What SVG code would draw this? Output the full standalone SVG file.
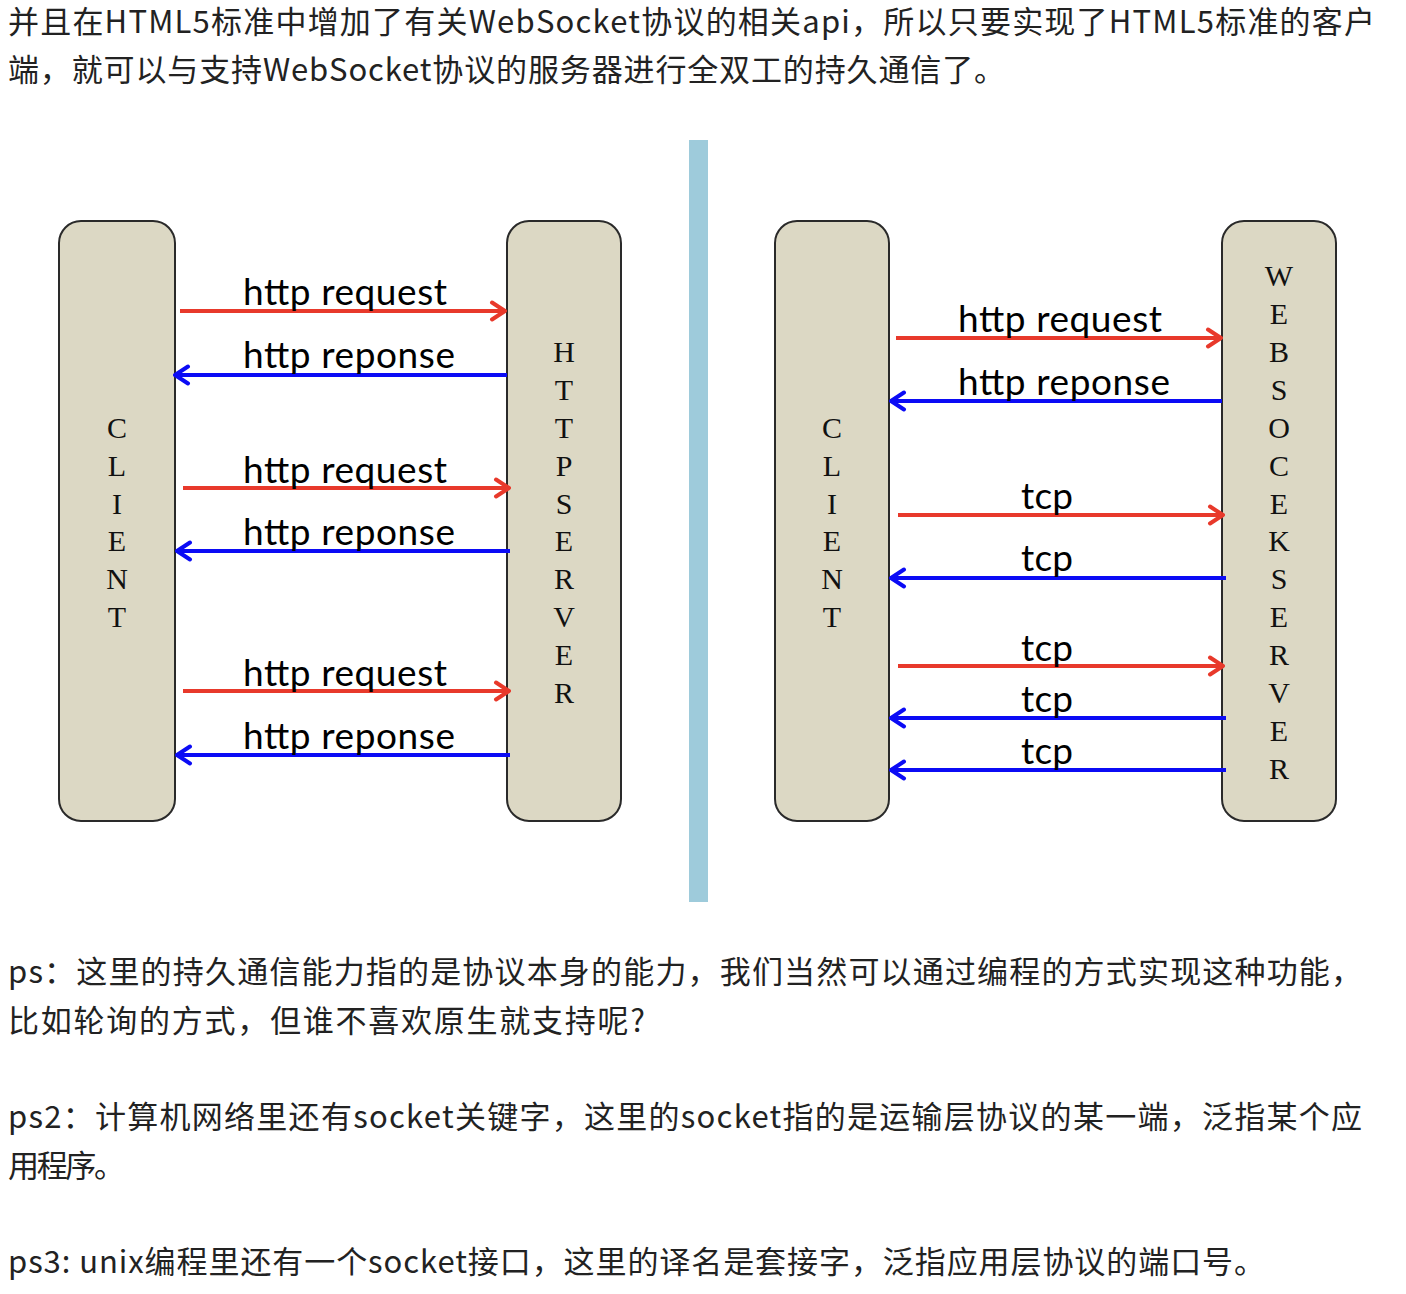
<svg xmlns="http://www.w3.org/2000/svg" width="1406" height="1294" viewBox="0 0 1406 1294">
<style>
.p{font-family:"Noto Sans CJK SC","Noto Sans",sans-serif;font-size:31px;fill:#222}
.box{fill:#dcd8c4;stroke:#2a2a2a;stroke-width:2}
.ltr{font-family:"Liberation Serif",serif;font-size:30px;fill:#111;text-anchor:middle}
.lbl{font-family:Lato,"Liberation Sans",sans-serif;font-size:37px;fill:#000}
.req{stroke:#e8392b;stroke-width:4;fill:none;marker-end:url(#ar)}
.res{stroke:#0b0bf5;stroke-width:4;fill:none;marker-end:url(#ab)}
</style>
<defs>
<marker id="ar" viewBox="0 0 18 22" refX="16" refY="11" markerWidth="18" markerHeight="22" markerUnits="userSpaceOnUse" orient="auto"><path d="M3,2.5 L16,11 L3,19.5" fill="none" stroke="#e8392b" stroke-width="4" stroke-linecap="round" stroke-linejoin="round"/></marker>
<marker id="ab" viewBox="0 0 18 22" refX="16" refY="11" markerWidth="18" markerHeight="22" markerUnits="userSpaceOnUse" orient="auto"><path d="M3,2.5 L16,11 L3,19.5" fill="none" stroke="#0b0bf5" stroke-width="4" stroke-linecap="round" stroke-linejoin="round"/></marker>
</defs>
<rect width="1406" height="1294" fill="#fff"/>
<g id="text-top">
<text class="p" x="8" y="33" textLength="1367">并且在HTML5标准中增加了有关WebSocket协议的相关api，所以只要实现了HTML5标准的客户</text>
<text class="p" x="8" y="81" textLength="997">端，就可以与支持WebSocket协议的服务器进行全双工的持久通信了。</text>
</g>
<rect id="divider" x="689" y="140" width="19" height="762" fill="#9ecbdb"/>
<g id="client-left">
<rect class="box" x="59" y="221" width="116" height="600" rx="22"/>
<text class="ltr" x="117" y="438">C</text><text class="ltr" x="117" y="476">L</text><text class="ltr" x="117" y="514">I</text><text class="ltr" x="117" y="551">E</text><text class="ltr" x="117" y="589">N</text><text class="ltr" x="117" y="627">T</text>
</g>
<g id="http-server">
<rect class="box" x="507" y="221" width="114" height="600" rx="22"/>
<text class="ltr" x="564" y="362">H</text><text class="ltr" x="564" y="400">T</text><text class="ltr" x="564" y="438">T</text><text class="ltr" x="564" y="476">P</text><text class="ltr" x="564" y="514">S</text><text class="ltr" x="564" y="551">E</text><text class="ltr" x="564" y="589">R</text><text class="ltr" x="564" y="627">V</text><text class="ltr" x="564" y="665">E</text><text class="ltr" x="564" y="703">R</text>
</g>
<g id="client-right">
<rect class="box" x="775" y="221" width="114" height="600" rx="22"/>
<text class="ltr" x="832" y="438">C</text><text class="ltr" x="832" y="476">L</text><text class="ltr" x="832" y="514">I</text><text class="ltr" x="832" y="551">E</text><text class="ltr" x="832" y="589">N</text><text class="ltr" x="832" y="627">T</text>
</g>
<g id="websocket-server">
<rect class="box" x="1222" y="221" width="114" height="600" rx="22"/>
<text class="ltr" x="1279" y="286">W</text><text class="ltr" x="1279" y="324">E</text><text class="ltr" x="1279" y="362">B</text><text class="ltr" x="1279" y="400">S</text><text class="ltr" x="1279" y="438">O</text><text class="ltr" x="1279" y="476">C</text><text class="ltr" x="1279" y="514">E</text><text class="ltr" x="1279" y="551">K</text><text class="ltr" x="1279" y="589">S</text><text class="ltr" x="1279" y="627">E</text><text class="ltr" x="1279" y="665">R</text><text class="ltr" x="1279" y="703">V</text><text class="ltr" x="1279" y="741">E</text><text class="ltr" x="1279" y="779">R</text>
</g>
<g id="connectors">
<line class="req" x1="180" y1="311" x2="505" y2="311"/>
<line class="res" x1="507" y1="375" x2="175" y2="375"/>
<line class="req" x1="183" y1="488" x2="509" y2="488"/>
<line class="res" x1="510" y1="551" x2="177" y2="551"/>
<line class="req" x1="183" y1="691" x2="509" y2="691"/>
<line class="res" x1="510" y1="755" x2="177" y2="755"/>
<line class="req" x1="896" y1="338" x2="1221" y2="338"/>
<line class="res" x1="1222" y1="401" x2="891" y2="401"/>
<line class="req" x1="898" y1="515" x2="1223" y2="515"/>
<line class="res" x1="1226" y1="578" x2="891" y2="578"/>
<line class="req" x1="898" y1="666" x2="1223" y2="666"/>
<line class="res" x1="1226" y1="718" x2="891" y2="718"/>
<line class="res" x1="1226" y1="770" x2="891" y2="770"/>
<text class="lbl" x="243" y="305" textLength="204">http request</text>
<text class="lbl" x="243" y="368" textLength="212">http reponse</text>
<text class="lbl" x="243" y="483" textLength="204">http request</text>
<text class="lbl" x="243" y="545" textLength="212">http reponse</text>
<text class="lbl" x="243" y="686" textLength="204">http request</text>
<text class="lbl" x="243" y="749" textLength="212">http reponse</text>
<text class="lbl" x="958" y="332" textLength="204">http request</text>
<text class="lbl" x="958" y="395" textLength="212">http reponse</text>
<text class="lbl" x="1021" y="509" textLength="52">tcp</text>
<text class="lbl" x="1021" y="571" textLength="52">tcp</text>
<text class="lbl" x="1021" y="661" textLength="52">tcp</text>
<text class="lbl" x="1021" y="712" textLength="52">tcp</text>
<text class="lbl" x="1021" y="764" textLength="52">tcp</text>
</g>
<g id="text-bottom">
<text class="p" x="8" y="983" textLength="1354">ps：这里的持久通信能力指的是协议本身的能力，我们当然可以通过编程的方式实现这种功能，</text>
<text class="p" x="8" y="1032" textLength="637">比如轮询的方式，但谁不喜欢原生就支持呢?</text>
<text class="p" x="8" y="1128" textLength="1354">ps2：计算机网络里还有socket关键字，这里的socket指的是运输层协议的某一端，泛指某个应</text>
<text class="p" x="8" y="1177" textLength="117">用程序。</text>
<text class="p" x="8" y="1273" textLength="1257">ps3: unix编程里还有一个socket接口，这里的译名是套接字，泛指应用层协议的端口号。</text>
</g>
</svg>
